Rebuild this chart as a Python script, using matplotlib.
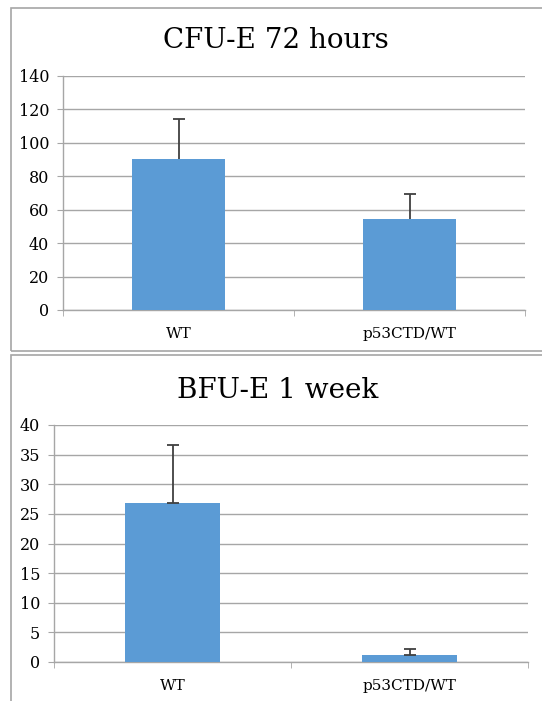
import matplotlib
matplotlib.use('Agg')

import matplotlib.pyplot as plt
from matplotlib.patches import Rectangle

plt.rcParams['font.family'] = 'DejaVu Serif'

groups = ['WT', 'p53CTD/WT']

cfu_title = 'CFU-E 72 hours'
cfu_means = [90.5, 54.5]
cfu_err = [24.0, 15.0]
cfu_ticks = [0, 20, 40, 60, 80, 100, 120, 140]

bfu_title = 'BFU-E 1 week'
bfu_means = [26.8, 1.2]
bfu_err = [9.9, 1.0]
bfu_ticks = [0, 5, 10, 15, 20, 25, 30, 35, 40]

W, H = 542, 701
BAR = '#5b9bd5'
GRID = '#a6a6a6'


def px_box(left, top, right, bottom):
    # pixel box -> figure fraction [l, b, w, h]
    return [left / W, 1 - bottom / H, (right - left) / W, (bottom - top) / H]


def draw_panel(ax, means, err, ticks, lower_cap):
    x = list(range(len(groups)))
    ax.bar(x, means, width=0.4, color=BAR, zorder=3)
    eb = ax.errorbar(x, means, yerr=[[0] * len(err), err], fmt='none',
                     ecolor='#404040', elinewidth=1.3, capsize=4, capthick=1.3,
                     zorder=4)
    if not lower_cap:
        eb[1][0].set_visible(False)
    ax.set_xlim(-0.5, len(groups) - 0.5)
    ax.set_ylim(ticks[0], ticks[-1])
    ax.set_yticks(ticks)
    ax.set_xticks(x)
    ax.set_xticklabels(groups)
    ax.set_xticks([i - 0.5 for i in range(len(groups) + 1)], minor=True)
    ax.grid(axis='y', color=GRID, linewidth=1, zorder=0)
    ax.set_axisbelow(True)
    for s in ['top', 'right']:
        ax.spines[s].set_visible(False)
    for s in ['left', 'bottom']:
        ax.spines[s].set_color(GRID)
        ax.spines[s].set_linewidth(1)
    ax.tick_params(axis='y', length=4, color=GRID, pad=6, labelsize=11.5)
    ax.tick_params(axis='x', which='major', length=0, pad=12, labelsize=11)
    ax.tick_params(axis='x', which='minor', length=4, color=GRID)


fig = plt.figure(figsize=(W / 100, H / 100), dpi=100)

# panel frames
for top, bottom in [(8, 351), (355, 720)]:
    l, b, w, h = px_box(10.5, top, 560, bottom)
    fig.add_artist(Rectangle((l, b), w, h, transform=fig.transFigure,
                             fill=False, edgecolor=GRID, linewidth=1.2))

ax1 = fig.add_axes(px_box(63, 76, 525, 310))
draw_panel(ax1, cfu_means, cfu_err, cfu_ticks, lower_cap=False)
fig.text(276 / W, 1 - 41 / H, cfu_title, ha='center', va='center', fontsize=20)

ax2 = fig.add_axes(px_box(54, 425, 528, 662))
draw_panel(ax2, bfu_means, bfu_err, bfu_ticks, lower_cap=True)
fig.text(278 / W, 1 - 391 / H, bfu_title, ha='center', va='center', fontsize=20)

fig.savefig('out.png', dpi=100)
plt.close(fig)
